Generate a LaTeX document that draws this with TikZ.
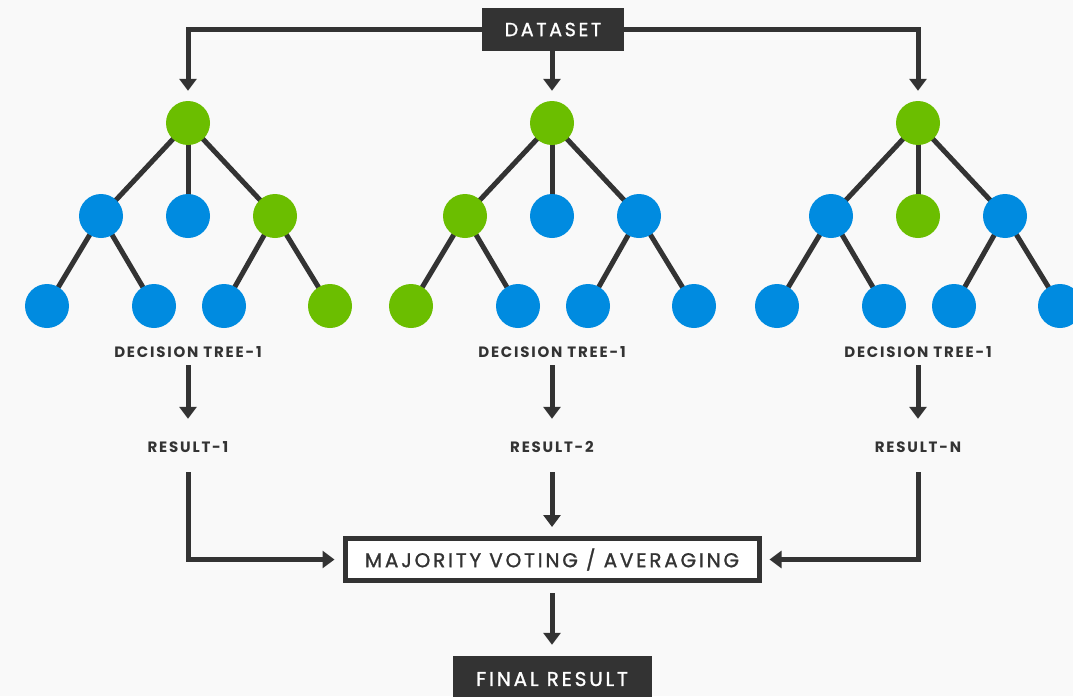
\documentclass[tikz,border=0pt]{standalone}
\usepackage[RGB]{xcolor}
\usepackage{fontspec}
\setmainfont{Poppins}
\newfontfamily\labelfont{Poppins}[LetterSpace=12]
\newfontfamily\boxfont{Poppins}[LetterSpace=14, FakeBold=1.2]
\usetikzlibrary{arrows.meta,backgrounds}
\definecolor{G}{RGB}{107,190,0}
\definecolor{B}{RGB}{0,139,224}
\definecolor{K}{RGB}{51,51,51}
\definecolor{P}{RGB}{249,249,249}
\tikzset{
  leaf/.style={circle, fill=#1, minimum size=44pt, inner sep=0pt},
  caption/.style={font=\labelfont\bfseries\fontsize{15}{15}\selectfont, text=K, inner sep=0pt, minimum height=26pt},
  darkbox/.style={fill=K, text=white, font=\boxfont\fontsize{19}{19}\selectfont, inner sep=0pt},
  flow/.style={line width=5pt, draw=K, -{Triangle[width=17pt,length=12pt]}},
  branch/.style={line width=5pt, draw=K},
}
\newcommand{\drawtree}[9]{
  \node[leaf=G] (#1r) at (#2,123) {};
  \node[leaf=#3] (#1a) at (#2-87,216) {};
  \node[leaf=#4] (#1b) at (#2,216) {};
  \node[leaf=#5] (#1c) at (#2+87,216) {};
  \node[leaf=#6] (#1aa) at (#2-141,306) {};
  \node[leaf=#7] (#1ab) at (#2-34,306) {};
  \node[leaf=#8] (#1ca) at (#2+36,306) {};
  \node[leaf=#9] (#1cb) at (#2+142,306) {};
  \begin{scope}[on background layer]
    \foreach \kid in {a,b,c}{
      \draw[branch] (#1r.center) -- (#1\kid.center);
    }
    \foreach \kid in {aa,ab}{
      \draw[branch] (#1a.center) -- (#1\kid.center);
    }
    \foreach \kid in {ca,cb}{
      \draw[branch] (#1c.center) -- (#1\kid.center);
    }
  \end{scope}
}
\begin{document}
\begin{tikzpicture}[x=1pt,y=-1pt]
\useasboundingbox (0,0) rectangle (1073,696);
\begin{scope}[on background layer]
  \fill[P] (0,0) rectangle (1073,696);
\end{scope}
% the three trees
\drawtree{t1}{188}{B}{B}{G}{B}{B}{B}{G}
\drawtree{t2}{552}{G}{B}{B}{G}{B}{B}{B}
\drawtree{t3}{918}{B}{G}{B}{B}{B}{B}{B}
\node[darkbox, minimum width=142pt, minimum height=43pt] (data) at (553,29.5) {DATASET};
\node[caption] (dt1) at (188,352) {DECISION TREE-1};
\node[caption] (dt2) at (552,352) {DECISION TREE-1};
\node[caption] (dt3) at (918,352) {DECISION TREE-1};
\node[caption] (res1) at (188,447) {RESULT-1};
\node[caption] (res2) at (552,447) {RESULT-2};
\node[caption] (res3) at (918,447) {RESULT-N};
\node[draw=K, line width=5pt, fill=white, minimum width=414pt, minimum height=42pt, inner sep=0pt,
  font=\boxfont\fontsize{20}{20}\selectfont, text=K] (vote) at (552,559.5) {MAJORITY VOTING / AVERAGING};
\node[darkbox, minimum width=199pt, minimum height=46pt, font=\boxfont\fontsize{20}{20}\selectfont] (final) at (552,679) {FINAL RESULT};
% connectors
\draw[flow, shorten >=10pt] (data.west) -| (t1r);
\draw[flow, shorten >=10pt] (data.south -| t2r) -- (t2r);
\draw[flow, shorten >=10pt] (data.east) -| (t3r);
\draw[flow, shorten >=15pt] (dt1) -- (res1);
\draw[flow, shorten >=15pt] (dt2) -- (res2);
\draw[flow, shorten >=15pt] (dt3) -- (res3);
\draw[flow, shorten <=12pt, shorten >=8pt] (res1) |- (vote);
\draw[flow, shorten <=12pt, shorten >=9pt] (res2) -- (vote);
\draw[flow, shorten <=12pt, shorten >=8pt] (res3) |- (vote);
\draw[flow, shorten <=10pt, shorten >=11pt] (vote) -- (final);
\end{tikzpicture}
\end{document}
